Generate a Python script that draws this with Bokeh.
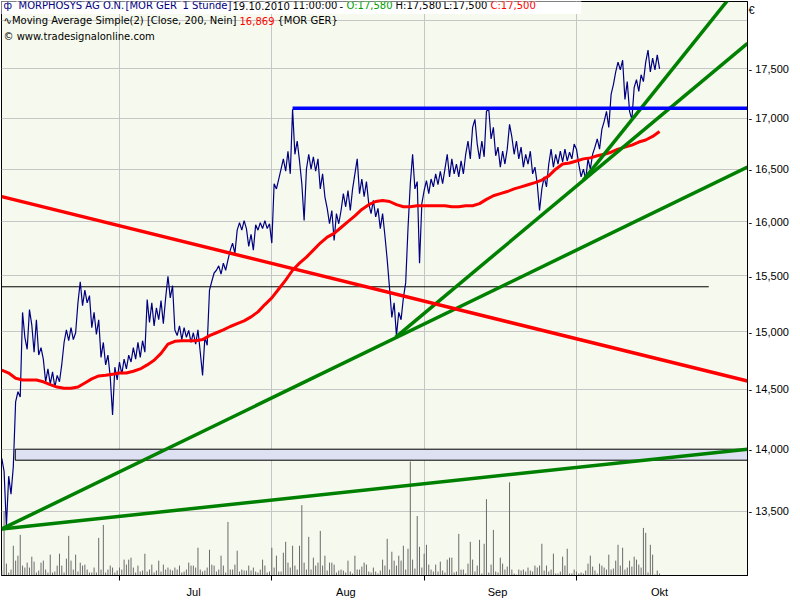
import numpy as np
from bokeh.plotting import figure
from bokeh.models import Range1d, LinearScale, FixedTicker, Label
from bokeh.embed import file_html
from bokeh.resources import INLINE

# ---------------- data (x = trading days since 1 Jul 2010) ----------------
price_start_day = -17.0
price_step_day = 1.0 / 3.0
price_close = [
    13925, 13820, 13380, 13780, 13635, 13860, 14395, 14480, 14435, 15170,
    14950, 14845, 15195, 15060, 14820, 15105, 14795, 14860, 14760, 14565,
    14675, 14545, 14650, 14520, 14620, 14565, 14715, 14905, 15015, 14920,
    15035, 14930, 14990, 15255, 15445, 15230, 15370, 15255, 15320, 15035,
    15170, 14975, 15105, 14775, 14905, 14710, 14795, 14605, 14285, 14690,
    14580, 14735, 14630, 14760, 14675, 14795, 14735, 14860, 14760, 14905,
    14775, 14920, 14820, 15285, 15080, 15255, 15050, 15210, 15105, 15275,
    15070, 15300, 15495, 15300, 15410, 15015, 14965, 15050, 14930, 15035,
    14950, 15010, 14905, 14990, 14890, 15015, 14820, 14620, 14950, 14880,
    15370, 15450, 15525, 15550, 15590, 15515, 15615, 15550, 15645, 15735,
    15800, 15705, 15920, 15990, 15920, 16010, 15935, 15770, 15880, 15735,
    15970, 15920, 15990, 15935, 16010, 15935, 15980, 15800, 16360, 16310,
    16405, 16500, 16600, 16480, 16675, 16455, 17090, 16645, 16775, 16580,
    16360, 16010, 16500, 16645, 16500, 16620, 16480, 16600, 16310, 16455,
    16235, 16125, 15980, 16105, 15825, 16075, 15980, 16105, 16265, 16140,
    16295, 16105, 16310, 16455, 16600, 16265, 16405, 16235, 16380, 16170,
    16075, 16200, 16045, 16125, 15935, 16075, 15870, 15645, 15390, 15125,
    15255, 14965, 15170, 15105, 15300, 15435, 15935, 16360, 16645, 16310,
    16380, 15615, 16170, 16295, 16390, 16265, 16405, 16330, 16455, 16350,
    16480, 16360, 16500, 16645, 16425, 16600, 16455, 16550, 16425, 16580,
    16455, 16645, 16775, 16600, 16910, 16990, 16745, 16600, 16775, 16620,
    17070, 17090, 16795, 16910, 16630, 16715, 16520, 16675, 16550, 16695,
    16940, 16815, 16645, 16775, 16600, 16715, 16520, 16645, 16550, 16675,
    16455, 16520, 16360, 16105, 16310, 16425, 16330, 16550, 16695, 16520,
    16645, 16550, 16675, 16570, 16695, 16580, 16665, 16600, 16745, 16695,
    16550, 16425, 16500, 16405, 16600, 16500, 16645, 16715, 16795, 16695,
    16890, 16970, 17070, 16910, 17240, 17340, 17470, 17570, 17490, 17590,
    17190, 17370, 17070, 16990, 17310, 17390, 17270, 17440, 17370, 17570,
    17695, 17470, 17610, 17490, 17645, 17500,
]
# volume per time step (thousand shares)
volume_k = [
    5, 65, 12, 3, 6, 30, 15, 20, 41, 10,
    8, 13, 8, 19, 14, 3, 5, 13, 15, 6,
    3, 21, 3, 4, 10, 22, 10, 3, 17, 40,
    15, 6, 21, 4, 13, 10, 11, 6, 3, 3,
    8, 3, 38, 6, 51, 3, 6, 10, 8, 3,
    5, 8, 6, 16, 11, 16, 18, 8, 3, 10,
    4, 5, 22, 4, 6, 11, 3, 5, 15, 4,
    11, 6, 8, 6, 5, 8, 6, 10, 3, 4,
    6, 13, 10, 10, 8, 28, 6, 4, 5, 8,
    26, 11, 10, 4, 6, 20, 10, 3, 54, 6,
    6, 11, 25, 4, 6, 5, 5, 10, 5, 8,
    4, 3, 6, 16, 10, 3, 4, 28, 8, 20,
    4, 4, 23, 34, 13, 8, 30, 10, 6, 30,
    71, 13, 6, 39, 6, 18, 10, 13, 45, 10,
    20, 5, 13, 13, 11, 3, 5, 6, 5, 3,
    15, 4, 2, 20, 6, 6, 9, 13, 11, 4,
    3, 8, 4, 2, 5, 16, 10, 37, 6, 24,
    15, 10, 20, 15, 30, 6, 27, 115, 16, 7,
    60, 29, 8, 22, 31, 11, 6, 4, 11, 4,
    14, 5, 3, 16, 18, 18, 3, 4, 42, 6,
    6, 2, 12, 34, 16, 4, 10, 36, 2, 32,
    77, 3, 11, 46, 4, 3, 18, 12, 6, 9,
    94, 6, 2, 1, 6, 5, 6, 4, 8, 5,
    4, 10, 8, 10, 32, 5, 10, 4, 6, 22,
    2, 2, 4, 19, 10, 27, 2, 2, 6, 4,
    2, 3, 2, 5, 12, 20, 9, 5, 2, 12,
    10, 8, 6, 21, 6, 7, 15, 31, 10, 28,
    6, 8, 15, 9, 19, 16, 11, 8, 48, 43,
    3, 31, 21, 1, 5, 2,
]
ma_start_day = -17.0
ma_step_day = 1.0
ma200 = [
    14665, 14640, 14595, 14580, 14580, 14580, 14565, 14540, 14520, 14510,
    14510, 14520, 14555, 14590, 14615, 14620, 14630, 14640, 14640, 14655,
    14675, 14710, 14750, 14810, 14890, 14915, 14920, 14920, 14920, 14930,
    14965, 14990, 15015, 15045, 15070, 15095, 15130, 15175, 15240, 15300,
    15380, 15460, 15550, 15615, 15670, 15735, 15800, 15855, 15890, 15945,
    16000, 16055, 16115, 16160, 16190, 16200, 16190, 16160, 16140, 16140,
    16150, 16150, 16150, 16150, 16150, 16140, 16140, 16150, 16150, 16170,
    16210, 16245, 16265, 16285, 16310, 16330, 16350, 16370, 16395, 16435,
    16500, 16550, 16560, 16580, 16600, 16610, 16630, 16645, 16665, 16695,
    16715, 16735, 16765, 16785, 16820, 16869,
]

month_bounds = [0, 22, 44, 66]
month_label_pos = [10.7, 32.7, 54.6, 78.0]
month_names = ["Jul", "Aug", "Sep", "Okt"]
price_ticks = [13500, 14000, 14500, 15000, 15500, 16000, 16500, 17000, 17500]
grid_prices = price_ticks + [18000]
currency_tick, currency_label = 18111, "€"

X_START, X_END = -17.04, 90.7
Y_MIN, Y_MAX = 13000, 18206

green_x0 = [-17.0, -17.0, 39.86, 67.0]
green_p0 = [13360, 13360, 14950, 16395]
green_x1 = [X_END, X_END, X_END, X_END]
green_p1 = [14000, 16520, 17765, 18485]
red_x0, red_p0, red_x1, red_p1 = -17.0, 16236, X_END, 14571
resist_day, resist_price = 25.0, 17100
support_end_day, support_price = 85.1, 15400
band_start_day, band_low, band_high = -15.05, 13910, 14000

header_line1 = [("ф", "#000080"), ("MORPHOSYS AG O.N.", "#000080"),
                ("[MOR GER", "#000080"), ("1 Stunde]", "#000080"),
                ("19.10.2010", "black"), ("11:00:00", "black"), ("-", "black"),
                ("O:17,580", "#00A000"), ("H:17,580", "black"),
                ("L:17,500", "black"), ("C:17,500", "#FF0000")]
header_line2 = [("∿Moving Average Simple(2) [Close, 200, Nein]", "black"),
                ("16,869", "#FF0000"), ("{MOR GER}", "black")]
header_line3 = [("© www.tradesignalonline.com", "black")]

# ---------------- figure ----------------
FRAME_LEFT, FRAME_BOTTOM = 1, 580   # page coordinates of frame corner
p = figure(width=800, height=600, x_range=Range1d(X_START, X_END),
           y_range=Range1d(Y_MIN, Y_MAX), y_axis_type="log",
           y_axis_location="right", output_backend="svg", toolbar_location=None,
           min_border_left=1, min_border_top=1, min_border_right=53,
           min_border_bottom=20)
p.background_fill_color = "#F6FAEE"
p.border_fill_color = "white"
p.outline_line_color = "black"
p.outline_line_width = 1

p.extra_y_ranges = {"vol": Range1d(0, 579)}
p.extra_y_scales = {"vol": LinearScale()}

# right price axis: tick dash drawn as part of the label, currency sign on top
ya = p.yaxis[0]
ya.ticker = FixedTicker(ticks=price_ticks + [currency_tick])
overrides = {t: "- " + f"{t:,}" for t in price_ticks}
overrides[currency_tick] = currency_label
ya.major_label_overrides = overrides
ya.major_label_text_font = "Liberation Sans"
ya.major_label_text_font_size = "11px"
ya.major_label_text_color = "black"
ya.major_tick_line_color = None
ya.major_tick_out = 0
ya.major_tick_in = 0
ya.minor_tick_out = 0
ya.minor_tick_in = 0
ya.major_label_standoff = 1
ya.axis_line_color = "black"

xa = p.xaxis[0]
xa.ticker = FixedTicker(ticks=month_label_pos, minor_ticks=month_bounds)
xa.major_label_overrides = {pos: name for pos, name in zip(month_label_pos, month_names)}
xa.major_tick_line_color = None
xa.major_tick_out = 0
xa.minor_tick_out = 5
xa.minor_tick_in = 0
xa.minor_tick_line_color = "black"
xa.major_label_standoff = 5
xa.major_label_text_font = "Liberation Sans"
xa.major_label_text_font_size = "11px"
xa.major_label_text_color = "black"
xa.axis_line_color = "black"

p.xgrid.ticker = FixedTicker(ticks=month_bounds)
p.ygrid.ticker = FixedTicker(ticks=grid_prices)
p.xgrid.grid_line_color = "#C6C6C6"
p.ygrid.grid_line_color = "#C6C6C6"

# volume
xs = price_start_day + np.arange(len(price_close)) * price_step_day
p.segment(x0=xs, y0=np.zeros(len(volume_k)), x1=xs, y1=volume_k,
          y_range_name="vol", line_color="#6A6A6A", line_width=1)

# band
p.quad(left=[band_start_day], right=[X_END + 5], bottom=[band_low], top=[band_high],
       fill_color="#DDE1F1", line_color="black", line_width=1)

# horizontal support line
p.segment(x0=[X_START], y0=[support_price], x1=[support_end_day], y1=[support_price],
          line_color="black", line_width=1)

# price
p.line(xs, price_close, line_color="#000080", line_width=1.2)

# moving average
ma_x = ma_start_day + np.arange(len(ma200)) * ma_step_day
p.line(ma_x, ma200, line_color="#FF0000", line_width=3)

# trend lines
p.segment(x0=green_x0, y0=green_p0, x1=green_x1, y1=green_p1,
          line_color="#008000", line_width=3.5)
p.segment(x0=[red_x0], y0=[red_p0], x1=[red_x1], y1=[red_p1],
          line_color="#FF0000", line_width=3.5)
p.segment(x0=[resist_day], y0=[resist_price], x1=[X_END], y1=[resist_price],
          line_color="#0000FF", line_width=3.5)

HFONT = "DejaVu Sans"


def hdr(text, px, py, color, size="10px", bg=None, font=HFONT):
    lab = Label(x=px - FRAME_LEFT, y=FRAME_BOTTOM - py, x_units="screen",
                y_units="screen", text=text, text_font=font,
                text_font_size=size, text_color=color, text_baseline="middle",
                text_align="left")
    if bg:
        lab.background_fill_color = bg
        lab.padding = 3
    p.add_layout(lab)


# white backing strip for the first header line (text drawn invisibly)
hdr("  ".join(t for t, _ in header_line1) + "   ", 0, 10, "white", bg="white")

line1_x = [3, 18, 125, 182, 232, 292, 339, 346, 395, 443, 490]
for (txt, col), x in zip(header_line1, line1_x):
    hdr(txt, x, 10, col)
line2_x = [3, 239, 277]
for (txt, col), x in zip(header_line2, line2_x):
    hdr(txt, x, 25, col)
for (txt, col) in header_line3:
    hdr(txt, 3, 41, col)

open("out.html", "w").write(file_html(p, INLINE))
